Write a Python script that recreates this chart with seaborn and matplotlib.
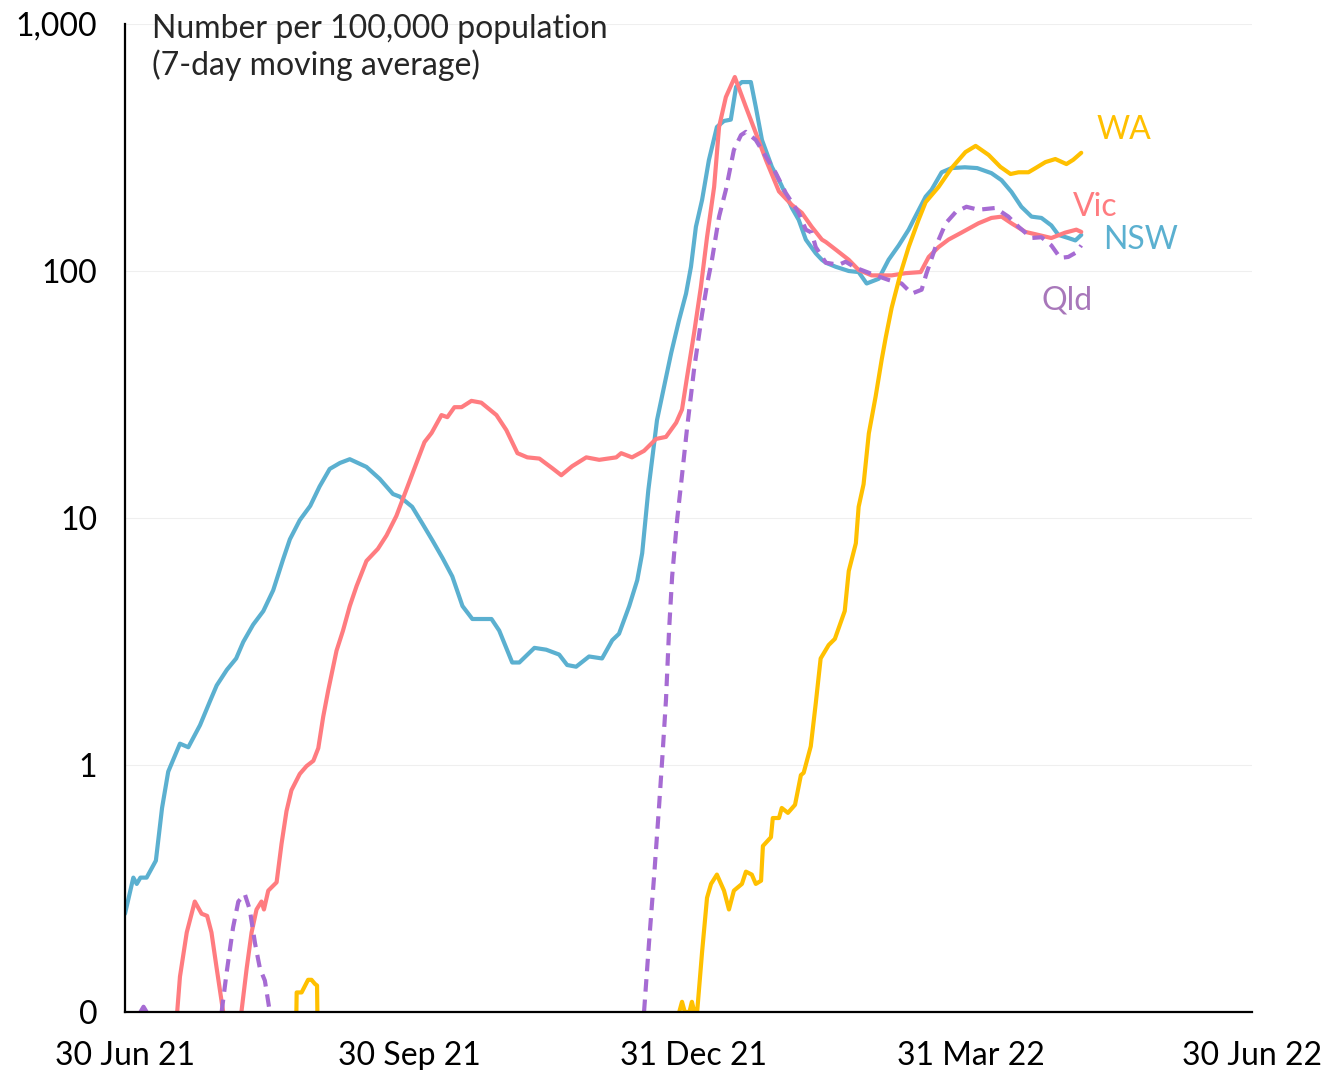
import numpy as np
import pandas as pd
import matplotlib.pyplot as plt
import matplotlib.ticker as mticker
import seaborn as sns

# days since 30 Jun 2021, values per 100,000 (7-day avg); nan = break in line
nsw_days = [0, 2.7, 3.8, 5, 7, 10, 12, 14, 17.8, 20.5, 24.3, 27.5, 29.7, 33, 36, 38.3,
            41.5, 44.8, 48, 51.2, 53.4, 56.6, 60, 63, 66.3, 69.6, 72.8, 78.2, 82.5,
            86.8, 89, 93, 96.3, 99.6, 102.8, 106, 109.3, 112.5, 118.7, 121.2, 125.4,
            127.7, 132.6, 136.4, 140.6, 143.2, 146.1, 150.3, 154.5, 157.8, 160, 163.3,
            165.9, 167.5, 169.5, 172.3, 175.2, 176.9, 179.4, 181.7, 183.3, 184.9,
            186.9, 189.1, 191.7, 194, 196.2, 197.9, 199.8, 202.7, 204.3, 206.3, 209.5,
            212.4, 216, 218.2, 220.5, 223.7, 225.7, 227, 230.2, 234.4, 237.6, 240.2,
            244.1, 247.3, 250.6, 253.8, 255.4, 259.3, 261.2, 264.5, 267.7, 272, 276,
            280.6, 283.9, 287.1, 290.3, 293.6, 296.8, 300, 302.3, 305.5, 307.8, 309.7]
nsw_vals = [0.25, 0.35, 0.33, 0.35, 0.35, 0.41, 0.67, 0.94, 1.22, 1.18, 1.45, 1.81, 2.1,
            2.43, 2.7, 3.15, 3.7, 4.2, 5.1, 6.8, 8.2, 9.8, 11.2, 13.4, 15.8, 16.7, 17.3,
            16.1, 14.4, 12.5, 12.2, 11.1, 9.5, 8.1, 6.9, 5.8, 4.4, 3.9, 3.9, 3.5, 2.6,
            2.6, 2.98, 2.93, 2.8, 2.54, 2.5, 2.75, 2.7, 3.2, 3.4, 4.4, 5.6, 7.2, 13,
            24.9, 37, 46.6, 63, 81, 104, 151, 194, 281, 383, 405, 410, 556, 582, 582,
            461, 339, 264, 225, 180, 161, 134, 118, 111, 108, 104, 100, 99, 89, 93, 111,
            127, 147, 161, 200, 213, 251, 261, 263, 261, 249, 233, 209, 182, 166, 164,
            153, 140, 136, 133, 140]

vic_days = [16.9, 17.8, 20, 22.6, 24.8, 26.6, 28, 29.7, 31.8, 34,
            37.7, 39.4, 41, 42.6, 44.2, 45, 46.4, 49.1, 50.7, 52.3, 53.9, 56.6, 58.8,
            61, 62.6, 64.2, 65.8, 68.5, 70.6, 72.8, 75, 78.2, 81.9, 84.7, 87.9, 91.5,
            94.4, 97, 99.3, 102.5, 104.4, 106.7, 109, 112.2, 115.4, 120.3, 123.5,
            127.1, 130.3, 134.2, 138.4, 141.3, 144.8, 149.4, 153.6, 159.1, 160.7,
            164.2, 168.1, 172, 175.2, 178.5, 180.4, 182, 184.3, 186.5, 188.5, 190.8,
            192.4, 194.6, 197.5, 201.1, 204.3, 207.6, 211.8, 216, 219.2, 222.4, 225.7,
            227, 230.2, 234.4, 237.6, 241.8, 248.3, 252.8, 257.7, 260.3, 263.5, 266.7,
            270.9, 276.4, 280.6, 283.9, 287.1, 291.6, 295.8, 300, 304.5, 308.1, 309.7]
vic_vals = [0.1, 0.139, 0.21, 0.28, 0.25, 0.245, 0.21, 0.15, 0.1, np.nan,
            0.1, 0.15, 0.21, 0.26, 0.28, 0.26, 0.31, 0.335, 0.48, 0.65, 0.79, 0.92,
            0.99, 1.04, 1.17, 1.57, 2.0, 2.9, 3.5, 4.4, 5.3, 6.7, 7.5, 8.5, 10.2, 13.4,
            16.7, 20.3, 22.1, 26.1, 25.6, 28.1, 28.1, 29.8, 29.3, 26.1, 22.7, 18.3,
            17.6, 17.4, 15.9, 14.9, 16.2, 17.6, 17.2, 17.6, 18.3, 17.6, 18.7, 20.9,
            21.3, 24.3, 27.5, 37, 56, 86, 137, 219, 383, 506, 610, 461, 362, 281, 210,
            185, 172, 151, 134, 131, 122, 111, 101, 96, 96, 98, 99, 114, 125, 134, 143,
            156, 164, 166, 156, 144, 140, 136, 143, 147, 144]

qld_days = [5, 6, 7, 8,
            31.3, 32.9, 35, 36.7, 38.8, 40.4, 42.1, 43.7, 45.3, 46.9, 48,
            168.1, 169.7, 171.4, 173, 174, 175.2, 176.2, 177.2, 178.8, 180.4, 182,
            184.3, 186.9, 188.5, 190.1, 192.4, 194.6, 197.2, 199.5, 201.1, 204.3,
            207.6, 210.8, 214, 218.2, 220.5, 222.4, 223.7, 227, 231.2, 233.4, 236.7,
            243.1, 247.3, 251.5, 254.8, 258, 259.6, 262.5, 265.8, 269, 272.5, 276.4,
            281.9, 286.1, 289.4, 293.6, 296.8, 300, 302.9, 305.5, 308.1, 309.7]
qld_vals = [0.1, 0.105, 0.1, np.nan,
            0.1, 0.144, 0.22, 0.28, 0.30, 0.26, 0.19, 0.15, 0.134, 0.1, np.nan,
            0.1, 0.19, 0.36, 0.69, 1.06, 1.83, 3.5, 5.8, 9.8, 14.9, 22.9, 40, 67, 88,
            111, 166, 213, 309, 355, 366, 339, 290, 249, 207, 172, 147, 143, 125, 108,
            106, 109, 103, 96, 92, 89, 81, 84, 98, 125, 156, 173, 182, 177, 180, 166,
            151, 136, 137, 127, 113, 114, 119, 127]

wa_days = [55.5, 55.6, 57.2, 59.3, 60.4, 61.5, 62.2, 62.3, 63,
           179.5, 180.4, 181.3, 182.8, 183.6, 184.4, 185.3, 186.9, 188.5, 189.8,
           191.7, 194, 195.6, 197.2, 199.8, 201.1, 203, 204.3, 206, 206.6, 209.2,
           209.8, 211.8, 212.7, 214.7, 217, 218.9, 219.8, 222.1, 223.7, 225.3, 227.9,
           229.9, 231.2, 233.1, 234.4, 236.7, 237.6, 239.2, 240.9, 243.1, 245.1,
           246.4, 248.3, 251.2, 253.8, 257, 259.3, 263.5, 267.7, 272.2, 275.5, 279.7,
           283.5, 286.8, 289.4, 292.6, 294.9, 298.1, 301.3, 304.9, 307.1, 309.7]
wa_vals = [0.1, 0.12, 0.12, 0.135, 0.135, 0.13, 0.128, 0.1, np.nan,
           0.1, 0.11, 0.1, 0.1, 0.11, 0.1, 0.1, 0.175, 0.29, 0.33, 0.36, 0.31, 0.26,
           0.31, 0.33, 0.37, 0.36, 0.33, 0.34, 0.47, 0.51, 0.61, 0.61, 0.67, 0.64,
           0.69, 0.91, 0.93, 1.19, 1.77, 2.7, 3.06, 3.24, 3.6, 4.2, 6.1, 7.9, 11.1,
           13.7, 22, 31, 44, 54, 71, 98, 125, 161, 190, 219, 261, 303, 321, 295, 264,
           247, 251, 251, 261, 276, 284, 271, 282, 301]

states = ['NSW', 'Vic', 'Qld', 'WA']
colors = {'NSW': '#5BB0D0', 'Vic': '#FF7C80', 'Qld': '#A66BD3', 'WA': '#FFC000'}
label_colors = {'NSW': '#5BB0D0', 'Vic': '#FF7C80', 'Qld': '#A877BA', 'WA': '#FFC000'}

start = pd.Timestamp('2021-06-30')


def make_frame(days, vals):
    df = pd.DataFrame({'day': days, 'value': vals})
    df['seg'] = df['value'].isna().cumsum()
    df = df.dropna()
    df['date'] = start + pd.to_timedelta(df['day'], unit='D')
    return df


frames = {
    'NSW': make_frame(nsw_days, nsw_vals),
    'Vic': make_frame(vic_days, vic_vals),
    'Qld': make_frame(qld_days, qld_vals),
    'WA': make_frame(wa_days, wa_vals),
}

sns.set_style('white')
plt.rcParams['font.family'] = ['Lato', 'DejaVu Sans']

fig = plt.figure(figsize=(13.34, 10.70), dpi=100)
ax = fig.add_axes([125 / 1334, 1 - 1012 / 1070, 1127 / 1334, 988 / 1070])

for st in states:
    n0 = len(ax.lines)
    sns.lineplot(data=frames[st], x='date', y='value', units='seg', estimator=None,
                 color=colors[st], lw=3.0, ax=ax)
    if st == 'Qld':
        for ln in ax.lines[n0:]:
            ln.set_dashes((3.0, 1.9))

ax.set_yscale('log')
ax.set_ylim(0.1, 1000)
ax.yaxis.set_major_locator(mticker.FixedLocator([0.1, 1, 10, 100, 1000]))
ax.yaxis.set_minor_locator(mticker.NullLocator())
ax.set_yticklabels(['0', '1', '10', '100', '1,000'])

xt = pd.to_datetime(['2021-06-30', '2021-09-30', '2021-12-31', '2022-03-31', '2022-06-30'])
ax.set_xlim(xt[0], xt[-1])
ax.set_xticks(xt)
ax.set_xticklabels(['30 Jun 21', '30 Sep 21', '31 Dec 21', '31 Mar 22', '30 Jun 22'])
ax.set_xlabel('')
ax.set_ylabel('')

ax.yaxis.grid(True, color='#EFEFEF', lw=0.8)
ax.set_axisbelow(True)
sns.despine(ax=ax)
for s in ['left', 'bottom']:
    ax.spines[s].set_color('black')
    ax.spines[s].set_linewidth(1.6)
ax.tick_params(axis='both', which='major', direction='out', length=9, width=1.4,
               color='black', labelsize=23, labelcolor='black')
ax.tick_params(axis='x', pad=12)
ax.tick_params(axis='y', pad=11)

# series labels at line ends
lab_pos = {'WA': (314.6, 372), 'Vic': (307.1, 182), 'NSW': (316.8, 133), 'Qld': (296.8, 76)}
for st, (d, v) in lab_pos.items():
    ax.text(start + pd.Timedelta(days=d), v, st, color=label_colors[st], fontsize=23,
            ha='left', va='center')

fig.text(152 / 1334, 1 - 14 / 1070, 'Number per 100,000 population\n(7-day moving average)',
         fontsize=23, ha='left', va='top', linespacing=1.2)

fig.savefig('out.png', dpi=100)
